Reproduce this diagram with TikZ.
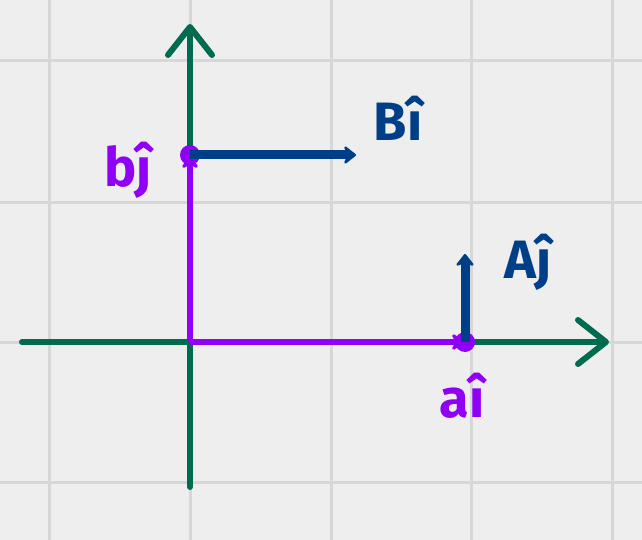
\documentclass[tikz,border=0pt]{standalone}
\usepackage{fontspec}
\setmainfont{Fira Sans}
\usetikzlibrary{arrows.meta}
\definecolor{bg}{HTML}{EEEEEE}
\definecolor{gridc}{HTML}{D7D7D7}
\definecolor{axisgreen}{HTML}{006B4F}
\definecolor{vpurple}{HTML}{8F00F5}
\definecolor{vblue}{HTML}{003F87}
\tikzset{
  gridline/.style={gridc, line width=3pt},
  axisline/.style={axisgreen, line width=6pt, line cap=round},
  axis/.style={axisline,
    -{Straight Barb[length=28pt,width=44pt,line cap=round,line join=round]}},
  pvec/.style={vpurple, line width=5pt, -{Stealth[length=16pt,width=20pt,round]}},
  bvec/.style={vblue, line width=9pt, -{Stealth[length=14pt,width=22pt,round]}},
  dot/.style={circle, fill=vpurple, inner sep=0pt, minimum size=20pt},
  plabel/.style={text=vpurple, font=\fontsize{54}{54}\selectfont\bfseries},
  blabel/.style={text=vblue, font=\fontsize{54}{54}\selectfont\bfseries},
}
\begin{document}
\begin{tikzpicture}[x=1pt,y=-1pt]
\fill[bg] (0,0) rectangle (642,540);
\useasboundingbox (0,0) rectangle (642,540);
% grid
\foreach \gx in {49,190,331,471,612} \draw[gridline] (\gx,0) -- (\gx,540);
\foreach \gy in {61,202,342,482} \draw[gridline] (0,\gy) -- (642,\gy);
% coordinates
\coordinate (O) at (190,342);
\coordinate (Ytop) at (190,24);
\coordinate (Ybot) at (190,487);
\coordinate (Xl) at (22,342);
\coordinate (Xr) at (609,342);
\coordinate (P) at (190,155);
\coordinate (Q) at (465,342);
\coordinate (Bend) at (356,155);
\coordinate (Aend) at (465,254);
% axes
\draw[axisline] (Ybot) -- (O);
\draw[axis] (O) -- (Ytop);
\draw[axisline] (Xl) -- (O);
\draw[axis] (O) -- (Xr);
% purple vectors
\draw[pvec] (O) -- (P);
\draw[pvec] (O) -- (Q);
\node[dot] (Pd) at (P) {};
\node[dot] (Qd) at (Q) {};
% blue vectors
\draw[bvec] (Pd.center) -- (Bend);
\draw[bvec] (Qd.center) -- (Aend);
% labels
\node[plabel] (lb) at (128,170) {bĵ};
\node[blabel] (lB) at (398,118) {Bî};
\node[blabel] (lA) at (528,262) {Aĵ};
\node[plabel] (la) at (462,396) {aî};
\end{tikzpicture}
\end{document}
